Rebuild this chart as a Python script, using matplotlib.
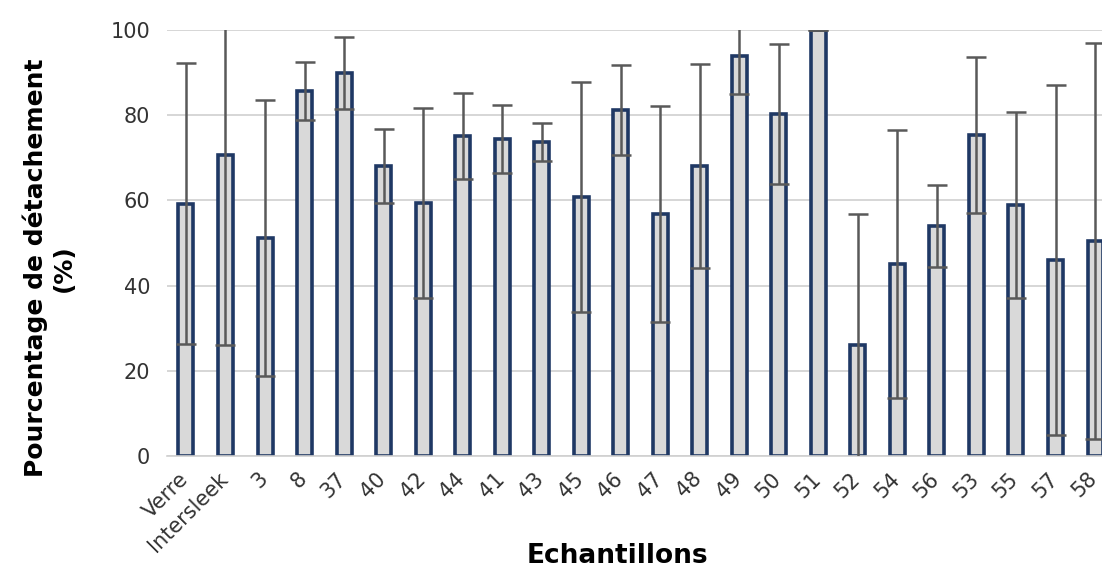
import matplotlib
matplotlib.use("Agg")
import matplotlib.pyplot as plt
import matplotlib.transforms as mtransforms
import numpy as np

samples = ["Verre", "Intersleek", "3", "8", "37", "40", "42", "44", "41", "43",
           "45", "46", "47", "48", "49", "50", "51", "52", "54", "56", "53",
           "55", "57", "58"]
detach_pct = [59.2, 70.7, 51.2, 85.7, 89.9, 68.1, 59.4, 75.1, 74.4, 73.7,
              60.8, 81.2, 56.8, 68.1, 93.9, 80.3, 100.0, 26.0, 45.0, 54.0, 75.4,
              58.9, 46.0, 50.5]
detach_sd = [33.0, 44.7, 32.4, 6.8, 8.5, 8.6, 22.3, 10.1, 8.0, 4.5,
             27.0, 10.6, 25.4, 24.0, 9.0, 16.4, 0.0, 30.8, 31.5, 9.6, 18.3,
             21.8, 41.0, 46.5]

W, H = 1102, 570
fig = plt.figure(figsize=(W / 100, H / 100), dpi=100)
# axes runs a bit past the right edge, like the cropped original
left, right, bottom, top = 167, 1114, 456, 30
ax = fig.add_axes([left / W, 1 - bottom / H, (right - left) / W, (bottom - top) / H])

x = np.arange(len(samples))
ax.bar(x, detach_pct, width=0.38, color="#d9d9d9", edgecolor="#1f3864",
       linewidth=2.6, zorder=2)
ax.errorbar(x, detach_pct, yerr=detach_sd, fmt="none", ecolor="#595959",
            elinewidth=1.8, capsize=7, capthick=1.8, zorder=3)

ax.set_xlim(-0.48, len(samples) - 0.52)
ax.set_ylim(0, 100)
ax.set_yticks([0, 20, 40, 60, 80, 100])
ax.yaxis.grid(True, color="#d0d0d0", linewidth=1.2, zorder=0)
ax.set_axisbelow(True)
for s in ["top", "right", "left"]:
    ax.spines[s].set_visible(False)
ax.spines["bottom"].set_color("#d0d0d0")
ax.spines["bottom"].set_linewidth(1.2)
ax.tick_params(length=0, labelsize=15, colors="#333333")
ax.tick_params(axis="y", pad=12)
ax.set_xticks(x)
ax.set_xticklabels(samples, rotation=45, ha="right", rotation_mode="anchor")
ax.tick_params(axis="x", pad=9)
shift = mtransforms.ScaledTranslation(-8 / 100, 0, fig.dpi_scale_trans)
for lbl in ax.get_xticklabels():
    lbl.set_transform(lbl.get_transform() + shift)

fig.text(0.045, 0.53, "Pourcentage de détachement\n(%)", rotation=90,
         ha="center", va="center", fontsize=18, fontweight="bold",
         multialignment="center")
fig.text(0.56, 0.025, "Echantillons", ha="center", va="center",
         fontsize=19, fontweight="bold")

fig.savefig("out.png", dpi=100)
